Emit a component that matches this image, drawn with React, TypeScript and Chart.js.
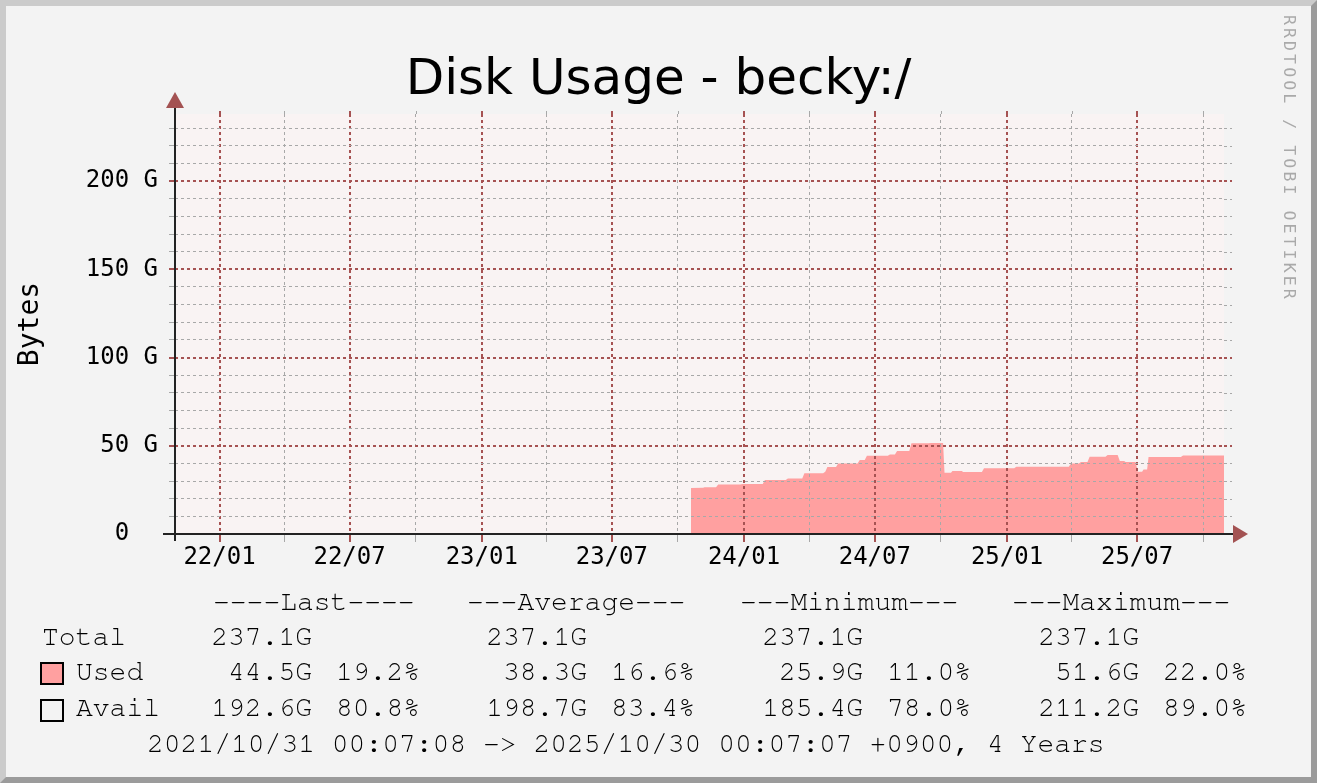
import React, { useEffect, useRef } from "react";
import { Chart, registerables } from "chart.js";

Chart.register(...registerables);

// ---- data (days since 2021/10/31 00:07:08 +0900, values in GB) ----
const rangeDays = [0, 1460];
const yRange = [0, 238];

const xTickDays = [62, 152, 243, 335, 427, 517, 608, 700, 792, 883, 974, 1066, 1158, 1248, 1339, 1431];
const xTickLabels = ["22/01", "", "22/07", "", "23/01", "", "23/07", "", "24/01", "", "24/07", "", "25/01", "", "25/07", ""];

const yTickValues = [0, 10, 20, 30, 40, 50, 60, 70, 80, 90, 100, 110, 120, 130, 140, 150, 160, 170, 180, 190, 200, 210, 220, 230];
const yTickLabels = ["0  ", "", "", "", "", "50 G", "", "", "", "", "100 G", "", "", "", "", "150 G", "", "", "", "", "200 G", "", "", ""];

const usedDays = [718, 735, 737, 753, 756, 787, 790, 818, 821, 850, 853, 873, 876, 902, 905, 908, 920, 923, 950, 953, 960, 963, 992, 995, 1002, 1005, 1022, 1025, 1049, 1052, 1069, 1071, 1080, 1082, 1095, 1097, 1123, 1126, 1168, 1171, 1244, 1247, 1258, 1261, 1270, 1273, 1295, 1298, 1312, 1315, 1321, 1323, 1337, 1340, 1346, 1348, 1353, 1355, 1400, 1403, 1460];
const usedGB = [26.0, 26.2, 26.5, 26.5, 28.1, 28.1, 28.3, 28.3, 30.6, 30.6, 31.5, 31.5, 34.4, 34.4, 35.3, 37.9, 37.9, 40.0, 40.0, 41.9, 41.9, 44.3, 44.3, 45.1, 45.1, 47.0, 47.0, 51.4, 51.4, 51.6, 51.6, 34.7, 34.7, 35.7, 35.7, 35.1, 35.1, 37.2, 37.2, 38.1, 38.1, 40.0, 40.0, 40.8, 40.8, 43.8, 43.8, 44.7, 44.7, 41.3, 41.3, 40.8, 40.8, 35.3, 35.3, 36.6, 36.6, 43.6, 43.6, 44.5, 44.5];

const titleText = "Disk Usage - becky:/";
const yAxisTitle = "Bytes";
const watermark = "RRDTOOL / TOBI OETIKER";

const legendHeaders = ["----Last----", "---Average---", "---Minimum---", "---Maximum---"];
const totalValues = ["237.1G", "237.1G", "237.1G", "237.1G"];
const usedValues = ["44.5G", "38.3G", "25.9G", "51.6G"];
const usedPercents = ["19.2%", "16.6%", "11.0%", "22.0%"];
const availValues = ["192.6G", "198.7G", "185.4G", "211.2G"];
const availPercents = ["80.8%", "83.4%", "78.0%", "89.0%"];
const rowLabels = ["Total", "Used", "Avail"];
const periodText = "2021/10/31 00:07:08 -> 2025/10/30 00:07:07 +0900, 4 Years";

// ---- styles ----
const MAJOR = "#A65252";
const MINOR = "#A8A8A8";
const AREA = "#FFA0A0";
const PLOT_BG = "#F9F3F3";
const ARROW = "#A35252";

const headerLefts = [213, 467, 740, 1012];
const valueRights = [312, 587, 863, 1139];
const pctLefts = [336, 611, 887, 1163];
const rowBaselines = [609, 644, 679.5, 715.5, 751];

const isMajorXIndex = (i: number) => i % 2 === 0;
const isMajorYValue = (v: number) => v % 50 === 0;

const bgPlugin = {
  id: "plotBg",
  beforeDraw(chart: any) {
    const { ctx, chartArea } = chart;
    ctx.save();
    ctx.fillStyle = PLOT_BG;
    ctx.fillRect(chartArea.left, chartArea.top, chartArea.right - chartArea.left, chartArea.bottom - chartArea.top);
    ctx.restore();
  },
};

const axesPlugin = {
  id: "rrdAxes",
  afterDraw(chart: any) {
    const { ctx, chartArea, scales } = chart;
    const { left, right, top, bottom } = chartArea;
    ctx.save();
    // grid line extensions beyond the plot, as rrdtool draws them
    ctx.setLineDash([3, 3]);
    scales.y.ticks.forEach((t: any) => {
      if (t.value === 0) return;
      const y = scales.y.getPixelForValue(t.value);
      const major = isMajorYValue(t.value);
      ctx.strokeStyle = major ? MAJOR : MINOR;
      ctx.lineWidth = major ? 2 : 1;
      const yy = major ? Math.round(y) : Math.round(y) + 0.5;
      ctx.beginPath();
      ctx.moveTo(right, yy);
      ctx.lineTo(right + 8, yy);
      ctx.stroke();
    });
    scales.x.ticks.forEach((t: any, i: number) => {
      const x = scales.x.getPixelForValue(t.value);
      const major = isMajorXIndex(i);
      ctx.strokeStyle = major ? MAJOR : MINOR;
      ctx.lineWidth = major ? 2 : 1;
      const xx = major ? Math.round(x) : Math.round(x) + 0.5;
      ctx.beginPath();
      ctx.moveTo(xx, top);
      ctx.lineTo(xx, top - 6);
      ctx.stroke();
    });
    ctx.setLineDash([]);
    ctx.strokeStyle = "#222222";
    ctx.lineWidth = 2;
    ctx.beginPath();
    ctx.moveTo(left, bottom + 7);
    ctx.lineTo(left, top - 6);
    ctx.stroke();
    ctx.beginPath();
    ctx.moveTo(left - 12, bottom);
    ctx.lineTo(right + 9, bottom);
    ctx.stroke();
    ctx.fillStyle = ARROW;
    ctx.beginPath();
    ctx.moveTo(left - 9, top - 6);
    ctx.lineTo(left + 9, top - 6);
    ctx.lineTo(left, top - 22);
    ctx.closePath();
    ctx.fill();
    ctx.beginPath();
    ctx.moveTo(right + 9, bottom - 9);
    ctx.lineTo(right + 9, bottom + 9);
    ctx.lineTo(right + 24, bottom);
    ctx.closePath();
    ctx.fill();
    ctx.restore();
  },
};

const monoFont = '"DejaVu Sans Mono", monospace';
const legendFont = '28px "Nimbus Mono PS", "Nimbus Mono L", "FreeMono", "Courier New", Courier, "Liberation Mono", monospace';

function Txt(props: { s: string; left?: number; right?: number; baseline: number }) {
  const { s, left, right, baseline } = props;
  const style: any = {
    position: "absolute",
    top: baseline - 21.45,
    font: legendFont,
    lineHeight: "28px",
    whiteSpace: "pre",
    color: "#000",
  };
  if (right !== undefined) {
    style.left = right - 300;
    style.width = 300;
    style.textAlign = "right";
  } else {
    style.left = left;
  }
  return <div style={style}>{s}</div>;
}

export default function App() {
  const ref = useRef<HTMLCanvasElement>(null);

  useEffect(() => {
    const canvas = ref.current;
    if (!canvas) return;
    const isMajorX = (ctx: any) => ctx && typeof ctx.index === "number" && isMajorXIndex(ctx.index);
    const isMajorY = (ctx: any) => ctx && ctx.tick && isMajorYValue(ctx.tick.value);
    const chart = new Chart(canvas, {
      type: "line",
      data: {
        datasets: [
          {
            label: "Used",
            data: usedDays.map((d, i) => ({ x: d, y: usedGB[i] })),
            fill: "origin",
            backgroundColor: AREA,
            borderColor: AREA,
            borderWidth: 0,
            pointRadius: 0,
            tension: 0,
          },
        ],
      },
      options: {
        animation: false,
        responsive: false,
        layout: { padding: { left: 0, right: 93, top: 114, bottom: 199 } },
        plugins: {
          legend: { display: false },
          tooltip: { enabled: false },
          title: { display: false },
        },
        scales: {
          x: {
            type: "linear",
            min: rangeDays[0],
            max: rangeDays[1],
            afterBuildTicks: (s: any) => {
              s.ticks = xTickDays.map((v) => ({ value: v }));
            },
            afterFit: (s: any) => {
              s.height = 50;
            },
            ticks: {
              autoSkip: false,
              maxRotation: 0,
              minRotation: 0,
              padding: 1,
              color: "#000",
              font: { family: monoFont, size: 24 },
              callback: (_v: any, i: number) => xTickLabels[i],
            },
            grid: {
              z: 1,
              color: (ctx: any) => (isMajorX(ctx) ? MAJOR : MINOR),
              lineWidth: (ctx: any) => (isMajorX(ctx) ? 2 : 1),
              tickColor: (ctx: any) => (isMajorX(ctx) ? MAJOR : MINOR),
              tickWidth: (ctx: any) => (isMajorX(ctx) ? 2 : 1),
              tickLength: 8,
              tickBorderDash: [],
            },
            border: { display: false, dash: [3, 3] },
          },
          y: {
            type: "linear",
            min: yRange[0],
            max: yRange[1],
            afterBuildTicks: (s: any) => {
              s.ticks = yTickValues.map((v) => ({ value: v }));
            },
            afterFit: (s: any) => {
              s.width = 175;
            },
            ticks: {
              autoSkip: false,
              padding: 11,
              color: "#000",
              font: { family: monoFont, size: 24 },
              callback: (_v: any, i: number) => yTickLabels[i],
            },
            title: {
              display: true,
              text: yAxisTitle,
              color: "#000",
              font: { family: monoFont, size: 28 },
              padding: { top: 14, bottom: 0 },
            },
            grid: {
              z: 1,
              color: (ctx: any) => (isMajorY(ctx) ? MAJOR : MINOR),
              lineWidth: (ctx: any) => (isMajorY(ctx) ? 2 : 1),
              tickColor: (ctx: any) => (isMajorY(ctx) ? MAJOR : MINOR),
              tickWidth: (ctx: any) => (isMajorY(ctx) ? 2 : 1),
              tickLength: 6,
              tickBorderDash: [],
            },
            border: { display: false, dash: [3, 3] },
          },
        },
      } as any,
      plugins: [bgPlugin, axesPlugin],
    });
    return () => chart.destroy();
  }, []);

  return (
    <div
      style={{
        position: "absolute",
        left: 0,
        top: 0,
        width: 1317,
        height: 783,
        background: "#F3F3F3",
        overflow: "hidden",
      }}
    >
      <div
        style={{
          position: "absolute",
          left: 0,
          top: 0,
          width: 1317,
          height: 783,
          boxSizing: "border-box",
          borderStyle: "solid",
          borderWidth: 6,
          borderColor: "#CBCBCB #9B9B9B #9B9B9B #CBCBCB",
        }}
      />
      <canvas
        ref={ref}
        width={1317}
        height={783}
        style={{ position: "absolute", left: 0, top: 0, width: 1317, height: 783 }}
      />
      <div
        style={{
          position: "absolute",
          left: 0,
          width: 1317,
          top: 52,
          textAlign: "center",
          font: '50px "DejaVu Sans", sans-serif',
          lineHeight: "50px",
          color: "#000",
          whiteSpace: "pre",
        }}
      >
        {titleText}
      </div>
      <div
        style={{
          position: "absolute",
          left: 1280.5,
          top: 15,
          writingMode: "vertical-rl",
          font: '16.5px "DejaVu Sans Mono", monospace',
          lineHeight: "17px",
          letterSpacing: "3.1px",
          color: "#A9A9A9",
          whiteSpace: "pre",
        }}
      >
        {watermark}
      </div>
      {legendHeaders.map((h, i) => (
        <Txt key={"h" + i} s={h} left={headerLefts[i]} baseline={rowBaselines[0]} />
      ))}
      <Txt s={rowLabels[0]} left={42} baseline={rowBaselines[1]} />
      {totalValues.map((v, i) => (
        <Txt key={"t" + i} s={v} right={valueRights[i]} baseline={rowBaselines[1]} />
      ))}
      <div
        style={{
          position: "absolute",
          left: 40,
          top: 662,
          width: 24,
          height: 23,
          boxSizing: "border-box",
          border: "2px solid #000",
          background: AREA,
        }}
      />
      <Txt s={rowLabels[1]} left={76} baseline={rowBaselines[2]} />
      {usedValues.map((v, i) => (
        <Txt key={"u" + i} s={v} right={valueRights[i]} baseline={rowBaselines[2]} />
      ))}
      {usedPercents.map((v, i) => (
        <Txt key={"up" + i} s={v} left={pctLefts[i]} baseline={rowBaselines[2]} />
      ))}
      <div
        style={{
          position: "absolute",
          left: 40,
          top: 699,
          width: 24,
          height: 23,
          boxSizing: "border-box",
          border: "2px solid #000",
          background: "transparent",
        }}
      />
      <Txt s={rowLabels[2]} left={76} baseline={rowBaselines[3]} />
      {availValues.map((v, i) => (
        <Txt key={"a" + i} s={v} right={valueRights[i]} baseline={rowBaselines[3]} />
      ))}
      {availPercents.map((v, i) => (
        <Txt key={"ap" + i} s={v} left={pctLefts[i]} baseline={rowBaselines[3]} />
      ))}
      <Txt s={periodText} left={147} baseline={rowBaselines[4]} />
    </div>
  );
}
